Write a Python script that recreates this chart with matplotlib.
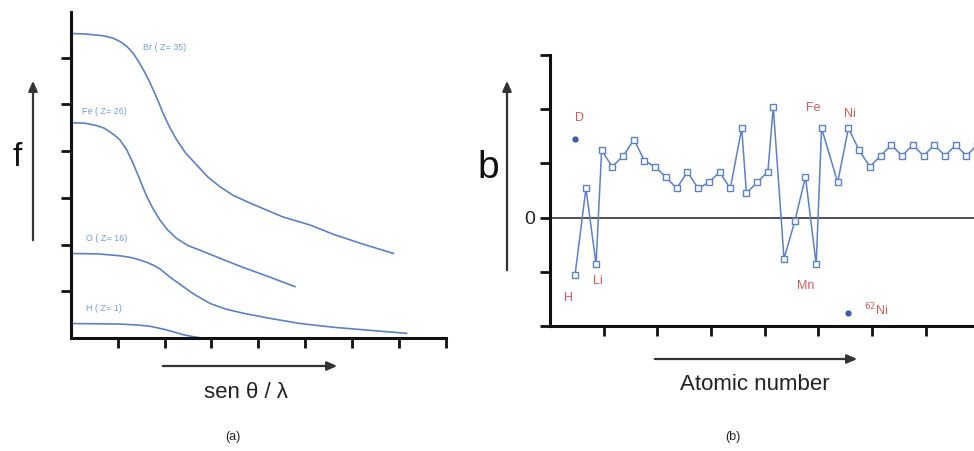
import matplotlib
matplotlib.use("Agg")
import matplotlib.pyplot as plt

plt.rcParams['font.family'] = ['Liberation Sans', 'DejaVu Sans']

# ---- panel (a): atomic form factor f vs sin(theta)/lambda ----
br_x = [0.0, 0.3, 0.70, 0.90, 1.05, 1.20, 1.33, 1.44, 1.55, 1.66, 1.76, 1.87, 1.97, 2.10, 2.26,
        2.45, 2.69, 2.92, 3.18, 3.47, 3.89, 4.53, 5.10, 5.60, 6.20, 6.88]
br_y = [6.52, 6.51, 6.47, 6.42, 6.35, 6.24, 6.10, 5.93, 5.74, 5.53, 5.31, 5.06, 4.81, 4.53, 4.24,
        3.96, 3.70, 3.45, 3.24, 3.05, 2.86, 2.59, 2.42, 2.22, 2.02, 1.81]
fe_x = [0.0, 0.30, 0.55, 0.72, 0.84, 0.95, 1.05, 1.20, 1.33, 1.47, 1.62, 1.76, 1.90, 2.06, 2.26,
        2.50, 2.83, 3.20, 3.60, 4.20, 4.78]
fe_y = [4.61, 4.60, 4.55, 4.49, 4.41, 4.33, 4.24, 4.02, 3.74, 3.40, 3.03, 2.76, 2.53, 2.32, 2.13,
        1.98, 1.85, 1.70, 1.54, 1.32, 1.10]
o_x = [0.0, 0.60, 1.05, 1.25, 1.41, 1.62, 1.78, 1.90, 2.00, 2.12, 2.26, 2.40, 2.55, 2.69, 2.97,
       3.30, 3.68, 4.25, 4.89, 5.60, 6.31, 7.16]
o_y = [1.81, 1.80, 1.76, 1.73, 1.69, 1.62, 1.55, 1.48, 1.40, 1.30, 1.20, 1.10, 0.99, 0.90, 0.74,
       0.62, 0.53, 0.42, 0.31, 0.23, 0.17, 0.10]
h_x = [0.0, 1.0, 1.41, 1.70, 1.97, 2.20, 2.40, 2.60, 2.80]
h_y = [0.31, 0.30, 0.28, 0.25, 0.19, 0.13, 0.07, 0.03, 0.0]
curve_labels = ["Br ( Z= 35)", "Fe ( Z= 26)", "O ( Z= 16)", "H ( Z= 1)"]
label_pos_a = [(1.55, 6.23), (0.24, 4.84), (0.33, 2.12), (0.33, 0.64)]

# ---- panel (b): scattering length b vs atomic number ----
z_pos = [2.33, 3.35, 4.29, 4.81, 5.8, 6.83, 7.83, 8.79, 9.78, 10.78, 11.8, 12.8, 13.8,
         14.8, 15.8, 16.8, 17.86, 18.3, 19.3, 20.3, 20.8, 21.8, 22.8, 23.8, 24.8,
         25.3, 26.8, 27.8, 28.8, 29.8, 30.8, 31.8, 32.8, 33.8, 34.8, 35.8, 36.8,
         37.8, 38.8, 39.8]
b_val = [-1.06, 0.54, -0.86, 1.24, 0.94, 1.14, 1.44, 1.05, 0.94, 0.75, 0.54, 0.84, 0.54,
         0.65, 0.84, 0.54, 1.65, 0.45, 0.65, 0.85, 2.04, -0.76, -0.07, 0.75, -0.86,
         1.65, 0.65, 1.65, 1.24, 0.94, 1.14, 1.34, 1.14, 1.34, 1.14, 1.34, 1.14,
         1.34, 1.14, 1.34]
iso_x = [2.33, 27.8]
iso_y = [1.45, -1.76]
elem_labels = ["D", "H", "Li", "Fe", "Ni", "Mn", "$^{62}$Ni"]
elem_pos = [(2.73, 1.84), (1.7, -1.48), (4.5, -1.17), (24.5, 2.03), (27.95, 1.92),
            (23.85, -1.27), (30.4, -1.70)]

W, H = 974, 451
fig = plt.figure(figsize=(W / 100, H / 100), dpi=100)

def fx(px):
    return px / W

def fy(py):
    return 1 - py / H

line_c = "#5b82c6"

# panel (a)
axa = fig.add_axes([fx(70.7), fy(338), fx(446) - fx(70.7), fy(12) - fy(338)])
for xs, ys in [(br_x, br_y), (fe_x, fe_y), (o_x, o_y), (h_x, h_y)]:
    axa.plot(xs, ys, color=line_c, lw=1.2, clip_on=False, solid_joinstyle="round")
for t, (x, y) in zip(curve_labels, label_pos_a):
    axa.text(x, y, t, color="#7c9bd4", fontsize=6.5, ha="left", va="center")
axa.set_xlim(0, 8)
axa.set_ylim(0, 6.98)
axa.set_xticks(range(1, 9))
axa.set_yticks(range(1, 7))

# panel (b)
axb = fig.add_axes([fx(550), fy(326), fx(974) - fx(550), fy(55) - fy(326)])
axb.axhline(0, color="#333333", lw=1.2, zorder=1)
axb.plot(z_pos, b_val, color=line_c, lw=1.1, marker="s", markersize=4.2,
         markerfacecolor="white", markeredgecolor=line_c, markeredgewidth=1.0, zorder=3)
axb.plot(iso_x, iso_y, ls="none", marker="o", markersize=3.5, color="#3a5ea8", zorder=3)
for t, (x, y) in zip(elem_labels, elem_pos):
    axb.text(x, y, t, color="#d65a5a", fontsize=9, ha="center", va="center")
axb.set_xlim(0, 39.5)
axb.set_ylim(-2, 3)
axb.set_xticks(range(5, 40, 5))
axb.set_yticks([-2, -1, 0, 1, 2, 3])

for ax in (axa, axb):
    for s in ("top", "right"):
        ax.spines[s].set_visible(False)
    for s in ("left", "bottom"):
        ax.spines[s].set_linewidth(2.2)
        ax.spines[s].set_color("#111111")
    ax.tick_params(direction="out", length=7, width=2, color="#111111",
                   labelleft=False, labelbottom=False)
    ax.set_facecolor("none")

fig.text(fx(530), fy(219), "0", fontsize=14, ha="center", va="center", color="#222222")

# axis arrows and labels
arrow_kw = dict(arrowstyle="-|>,head_length=0.5,head_width=0.22", color="#333333", lw=1.6)
fig.patches.append(matplotlib.patches.FancyArrowPatch((fx(33), fy(243)), (fx(33), fy(78)),
                   transform=fig.transFigure, mutation_scale=12, **arrow_kw))
fig.patches.append(matplotlib.patches.FancyArrowPatch((fx(160), fy(366)), (fx(340), fy(366)),
                   transform=fig.transFigure, mutation_scale=12, **arrow_kw))
fig.patches.append(matplotlib.patches.FancyArrowPatch((fx(507), fy(273)), (fx(507), fy(78)),
                   transform=fig.transFigure, mutation_scale=12, **arrow_kw))
fig.patches.append(matplotlib.patches.FancyArrowPatch((fx(652), fy(359)), (fx(860), fy(359)),
                   transform=fig.transFigure, mutation_scale=12, **arrow_kw))

fig.text(fx(17), fy(158), "f", fontsize=24, ha="center", va="center", color="#111111")
fig.text(fx(488), fy(168), "b", fontsize=28, ha="center", va="center", color="#111111")
fig.text(fx(246), fy(392), "sen θ / λ", fontsize=16, ha="center", va="center", color="#222222")
fig.text(fx(755), fy(385), "Atomic number", fontsize=16, ha="center", va="center", color="#222222")
fig.text(fx(233), fy(437), "(a)", fontsize=9, ha="center", va="center", color="#222222")
fig.text(fx(733), fy(437), "(b)", fontsize=9, ha="center", va="center", color="#222222")

fig.savefig("out.png", dpi=100)
